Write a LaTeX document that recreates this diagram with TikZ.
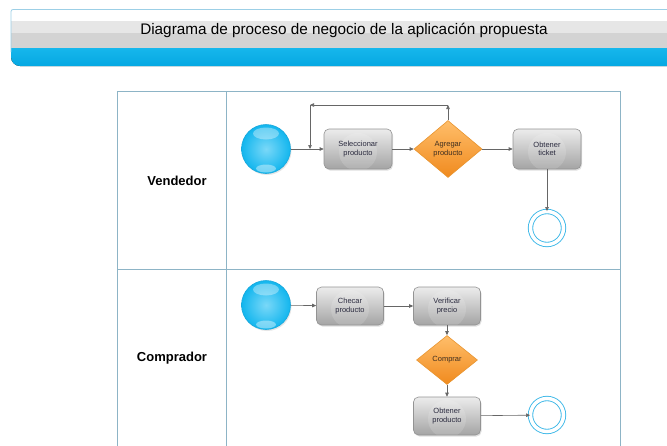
\documentclass[tikz,border=0pt]{standalone}
\usepackage{fontspec}
\setmainfont{Liberation Sans}
\usetikzlibrary{arrows.meta,shapes.geometric,shadows}
\definecolor{lanecol}{HTML}{8DB4C6}
\definecolor{linecol}{HTML}{666666}
\definecolor{boxtop}{HTML}{ECECEC}
\definecolor{boxbot}{HTML}{A4A4A4}
\definecolor{boxedge}{HTML}{939393}
\definecolor{txtcol}{HTML}{2A2A3E}
\definecolor{dtop}{HTML}{FFBE6A}
\definecolor{dbot}{HTML}{F08A1E}
\definecolor{dedge}{HTML}{E8942E}
\definecolor{dtxt}{HTML}{3E2E20}
\definecolor{ballin}{HTML}{7AD8F8}
\definecolor{ballout}{HTML}{12B6EE}
\definecolor{balledge}{HTML}{1AA8DC}
\definecolor{endcol}{HTML}{3DB8E8}
\definecolor{hdrborder}{HTML}{9CCFE6}
\definecolor{hdrblue1}{HTML}{1EBDF0}
\definecolor{hdrblue2}{HTML}{05A8E2}
\definecolor{hdrgrey1}{HTML}{E6E6E6}
\definecolor{hdrgrey2}{HTML}{D3D3D3}
\tikzset{
  task/.style={draw=boxedge, line width=0.6pt, rounded corners=5pt, top color=boxtop, bottom color=boxbot,
    minimum width=68pt, minimum height=40pt, inner sep=1pt, align=center, text=txtcol,
    font=\fontsize{7.5}{8.5}\selectfont, drop shadow={shadow xshift=1pt, shadow yshift=-1.5pt, opacity=0.25},
    path picture={\fill[white, opacity=0.14] ([yshift=-3pt]path picture bounding box.center) circle (19pt);}},
  decision/.style={diamond, draw=dedge, line width=0.6pt, top color=dtop, bottom color=dbot,
    minimum width=68pt, minimum height=57pt, inner sep=0pt, align=center, text=dtxt,
    font=\fontsize{7.5}{8.5}\selectfont},
  startev/.style={circle, draw=balledge, line width=0.6pt, inner color=ballin, outer color=ballout,
    minimum size=49pt, inner sep=0pt, drop shadow={shadow xshift=1pt, shadow yshift=-1.5pt, opacity=0.2},
    path picture={
      \fill[white, opacity=0.35] ([yshift=-9pt]path picture bounding box.north) ellipse [x radius=13pt, y radius=6pt];
      \fill[white, opacity=0.4] ([yshift=5pt]path picture bounding box.south) ellipse [x radius=10pt, y radius=4pt];}},
  endev/.style={circle, draw=endcol, line width=0.9pt, double=white, double distance=3.5pt,
    fill=white, minimum size=33pt, inner sep=0pt},
  flow/.style={draw=linecol, line width=0.6pt, -{Triangle[length=4pt,width=3.5pt]}},
  lane/.style={draw=lanecol, line width=0.8pt},
  lanelabel/.style={font=\fontsize{13}{15}\selectfont\bfseries, text=black}
}
\begin{document}
\begin{tikzpicture}[x=1pt,y=-1pt]
\useasboundingbox (0,0) rectangle (667,445);
% header
\fill[white] (11,9.5) rectangle (667,21);
\fill[hdrgrey1] (11,21) rectangle (667,33);
\fill[hdrgrey2] (11,33) rectangle (667,48);
\fill[top color=hdrblue1, bottom color=hdrblue2, rounded corners=9pt] (11,40) -- (11,66) -- (690,66) -- (690,40) -- cycle;
\fill[hdrgrey2] (11,40) rectangle (667,48);
\draw[hdrborder, line width=0.8pt, rounded corners=2pt] (680,9.5) -- (11,9.5) -- (11,52);
\node[font=\fontsize{15.3}{17}\selectfont, text=black] (title) at (344,30) {Diagrama de proceso de negocio de la aplicación propuesta};
% swimlanes
\draw[lane] (117,450) -- (117,91) -- (620,91) -- (620,450);
\draw[lane] (226,91) -- (226,450);
\draw[lane] (117,269) -- (620,269);
\node[lanelabel] (vend) at (177,181) {Vendedor};
\node[lanelabel] (comp) at (172,358) {Comprador};
% lane 1
\node[startev] (s1) at (266,149) {};
\node[task] (sel) at (358,149) {Seleccionar\\producto};
\node[decision] (agr) at (448,149) {Agregar\\producto};
\node[task] (tic) at (547,149) {Obtener\\ticket};
\node[endev] (e1) at (547,228) {};
\coordinate (c1) at (448,105);
\coordinate (c2) at (310,105);
\coordinate (c3) at (310,149);
\draw[flow] (s1) -- (sel);
\draw[flow] (sel) -- (agr);
\draw[flow] (agr) -- (tic);
\draw[flow] (tic) -- (e1);
\draw[flow] (agr.north) -- (c1);
\draw[flow] (c1) -- (c2);
\draw[flow] (c2) -- (c3);
% lane 2
\node[startev] (s2) at (266,305) {};
\node[task, minimum width=67pt, minimum height=38pt] (che) at (350,306) {Checar\\producto};
\node[task, minimum width=67pt, minimum height=38pt] (ver) at (447,306) {Verificar\\precio};
\node[decision, minimum width=61pt, minimum height=49pt] (com) at (447,360) {Comprar};
\node[task, minimum width=67pt, minimum height=38pt] (obt) at (447,416) {Obtener\\producto};
\node[endev] (e2) at (547,415) {};
\draw[flow] (s2) -- (che);
\draw[flow] (che) -- (ver);
\draw[flow] (ver) -- (com);
\draw[flow] (com) -- (obt);
\draw[flow] (obt) -- (e2);
\end{tikzpicture}
\end{document}
